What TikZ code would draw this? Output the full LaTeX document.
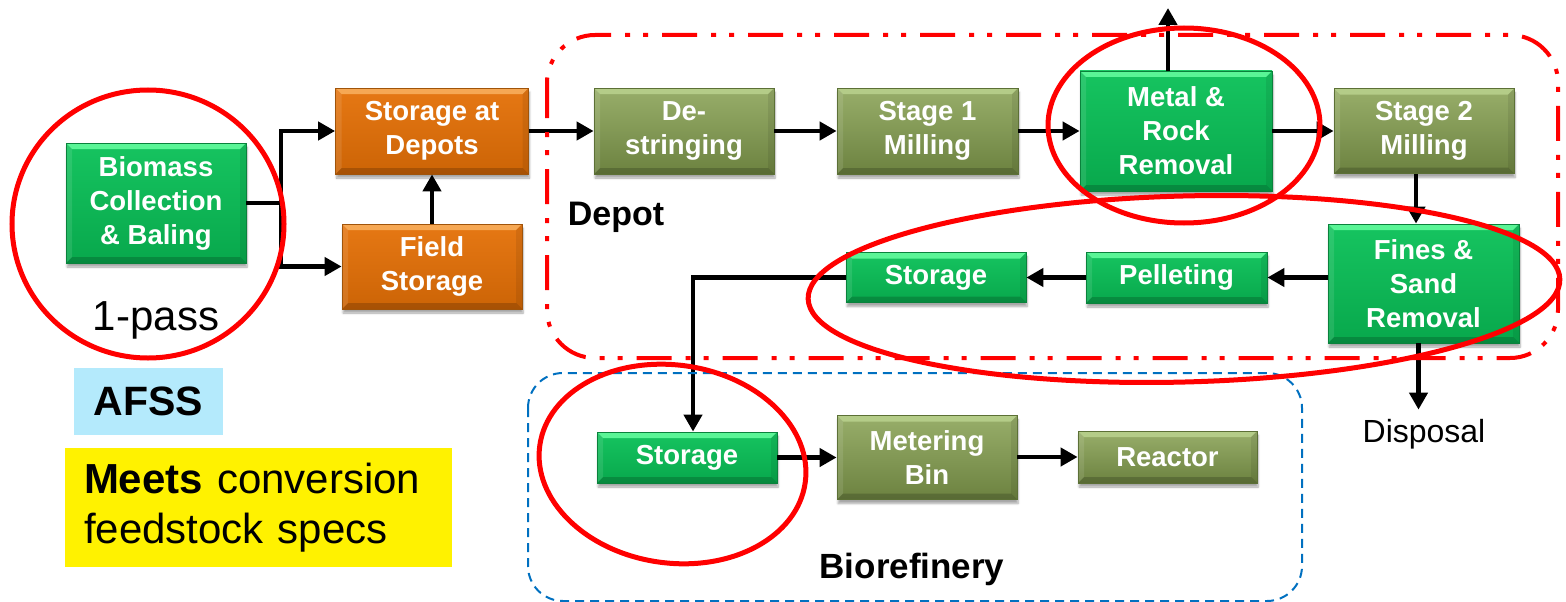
\documentclass[tikz,border=0pt]{standalone}
\usepackage{fontspec}
\setmainfont{Liberation Sans}
\usetikzlibrary{arrows.meta,shadows.blur,calc}
\definecolor{gTop}{RGB}{22,196,96}
\definecolor{gBot}{RGB}{8,168,76}
\definecolor{gLit}{RGB}{90,245,150}
\definecolor{gEdge}{RGB}{10,130,60}
\definecolor{oTop}{RGB}{152,174,106}
\definecolor{oBot}{RGB}{108,130,64}
\definecolor{oLit}{RGB}{180,204,136}
\definecolor{oEdge}{RGB}{92,112,54}
\definecolor{rTop}{RGB}{230,120,20}
\definecolor{rBot}{RGB}{204,100,6}
\definecolor{rLit}{RGB}{246,168,84}
\definecolor{rEdge}{RGB}{160,84,10}
\definecolor{afssblue}{RGB}{180,234,252}
\definecolor{ringred}{RGB}{255,0,0}
\definecolor{frameblue}{RGB}{0,112,192}
\begin{document}
\begin{tikzpicture}[x=1pt,y=-1pt,
  bevel/.style n args={4}{top color=#1, bottom color=#2, draw=#4, line width=0.8pt,
    path picture={
      \fill[#3] (path picture bounding box.north west) -- (path picture bounding box.north east)
        -- ([xshift=-6pt,yshift=-6pt]path picture bounding box.north east)
        -- ([xshift=6pt,yshift=-6pt]path picture bounding box.north west) -- cycle;
      \fill[black,opacity=0.18] (path picture bounding box.south west) -- (path picture bounding box.south east)
        -- ([xshift=-6pt,yshift=6pt]path picture bounding box.south east)
        -- ([xshift=6pt,yshift=6pt]path picture bounding box.south west) -- cycle;
      \fill[black,opacity=0.08] (path picture bounding box.north east) -- (path picture bounding box.south east)
        -- ([xshift=-6pt,yshift=6pt]path picture bounding box.south east)
        -- ([xshift=-6pt,yshift=-6pt]path picture bounding box.north east) -- cycle;
      \fill[white,opacity=0.10] (path picture bounding box.north west) -- (path picture bounding box.south west)
        -- ([xshift=6pt,yshift=6pt]path picture bounding box.south west)
        -- ([xshift=6pt,yshift=-6pt]path picture bounding box.north west) -- cycle;
    }},
  bx/.style={minimum width=180pt, minimum height=86pt, inner sep=0pt, align=center, text=white,
    font=\fontsize{27.5}{34}\selectfont\bfseries,
    blur shadow={shadow xshift=1pt, shadow yshift=-4pt, shadow blur steps=6, shadow opacity=35}},
  gbox/.style={bx, bevel={gTop}{gBot}{gLit}{gEdge}},
  obox/.style={bx, bevel={oTop}{oBot}{oLit}{oEdge}},
  rbox/.style={bx, bevel={rTop}{rBot}{rLit}{rEdge}},
  arr/.style={line width=4.8pt, -{Triangle[length=17pt,width=18pt]}},
  ln/.style={line width=4.8pt},
  ring/.style={draw=ringred, line width=5pt},
  redframe/.style={draw=ringred, line width=4pt, dash pattern=on 35pt off 14pt on 5pt off 13pt on 5pt off 14pt},
  blueframe/.style={draw=frameblue, line width=2pt, dash pattern=on 9pt off 6pt}
]
\useasboundingbox (0,0) rectangle (1566,602);

% process boxes
\node[gbox, minimum height=120pt] (bio) at (156,203) {Biomass\\Collection\\\& Baling};
\node[rbox, minimum width=193pt] (sad) at (432,131) {Storage at\\Depots};
\node[rbox, minimum height=85pt] (fs) at (432,266.5) {Field\\Storage};
\node[obox] (ds) at (684,131) {De-\\stringing};
\node[obox, minimum width=181pt] (m1) at (927.5,131) {Stage 1\\Milling};
\node[gbox, minimum width=192pt, minimum height=120pt] (mr) at (1176,131) {Metal \&\\Rock\\Removal};
\node[obox, minimum height=85pt] (m2) at (1424,131) {Stage 2\\Milling};
\node[gbox, minimum width=191pt, minimum height=119pt] (fsr) at (1423.5,283.5) {Fines \&\\Sand\\Removal};
\node[gbox, minimum width=181pt, minimum height=51pt] (pel) at (1176.5,277.5) {Pelleting};
\node[gbox, minimum height=50pt] (st1) at (936,277.5) {Storage};
\node[gbox, minimum height=51pt] (st2) at (687,457.5) {Storage};
\node[obox, minimum height=84pt] (mb) at (927,457.5) {Metering\\Bin};
\node[obox, minimum width=179pt, minimum height=52pt] (re) at (1167.5,457) {Reactor};

% labels
\node[font=\fontsize{34}{40}\selectfont\bfseries, anchor=base] (depot) at (616,225) {Depot};
\node[font=\fontsize{35}{40}\selectfont\bfseries, anchor=base] (bioref) at (912,578) {Biorefinery};
\node[font=\fontsize{42}{48}\selectfont, anchor=base] (onepass) at (156,330) {1-pass};
\node[font=\fontsize{32}{38}\selectfont, anchor=base, inner sep=9pt] (disp) at (1424,442) {Disposal};
\node[fill=afssblue, minimum width=149pt, minimum height=67pt, inner sep=0pt,
      font=\fontsize{41}{48}\selectfont\bfseries] (afss) at (148.5,401.5) {AFSS};
\node[fill=yellow, minimum width=387pt, minimum height=119pt, inner xsep=19pt, inner ysep=0pt,
      text width=349pt, align=left, font=\fontsize{42}{50}\selectfont] (yel) at (258.5,507.5)
      {\textbf{Meets} conversion\\feedstock specs};

% connectors
\coordinate (j) at (281,203);
\draw[ln] (bio.east) -- (j);
\draw[arr] (j) |- (sad.west);
\draw[arr] (j) |- (fs.west);
\draw[arr] (fs.north) -- (sad.south);
\draw[arr] (sad.east) -- (ds.west);
\draw[arr] (ds.east) -- (m1.west);
\draw[arr] (m1.east) -- (mr.west);
\draw[arr] (mr.east) -- (m2.west);
\coordinate (upend) at (1168,8);
\draw[arr] (upend |- mr.north) -- (upend);
\draw[arr] ([xshift=-8pt]m2.south) -- ([xshift=-8pt]m2.south |- fsr.north);
\draw[arr] (fsr.west |- pel.east) -- (pel.east);
\draw[arr] (pel.west) -- (st1.east);
\draw[arr] (st1.west) -| ([xshift=6pt]st2.north);
\draw[arr] (st2.east) -- (mb.west);
\draw[arr] (mb.east |- re.west) -- (re.west);
\draw[arr] ([xshift=-5pt]fsr.south) -- ([xshift=-5pt]fsr.south |- disp.north);

% frames
\draw[blueframe, rounded corners=35pt] (528,373) rectangle (1302,601);
\draw[redframe, rounded corners=48pt] (547,35) rectangle (1558,358);

% highlight rings
\draw[ring] (148,224) ellipse [x radius=136pt, y radius=134pt];
\draw[ring] (1184,125.5) ellipse [x radius=136pt, y radius=97.5pt];
\draw[ring, rotate around={1.5:(1184,289)}] (1184,289) ellipse [x radius=376pt, y radius=93pt];
\draw[ring, rotate around={-8:(672.5,464)}] (672.5,464) ellipse [x radius=134pt, y radius=99pt];
\end{tikzpicture}
\end{document}
